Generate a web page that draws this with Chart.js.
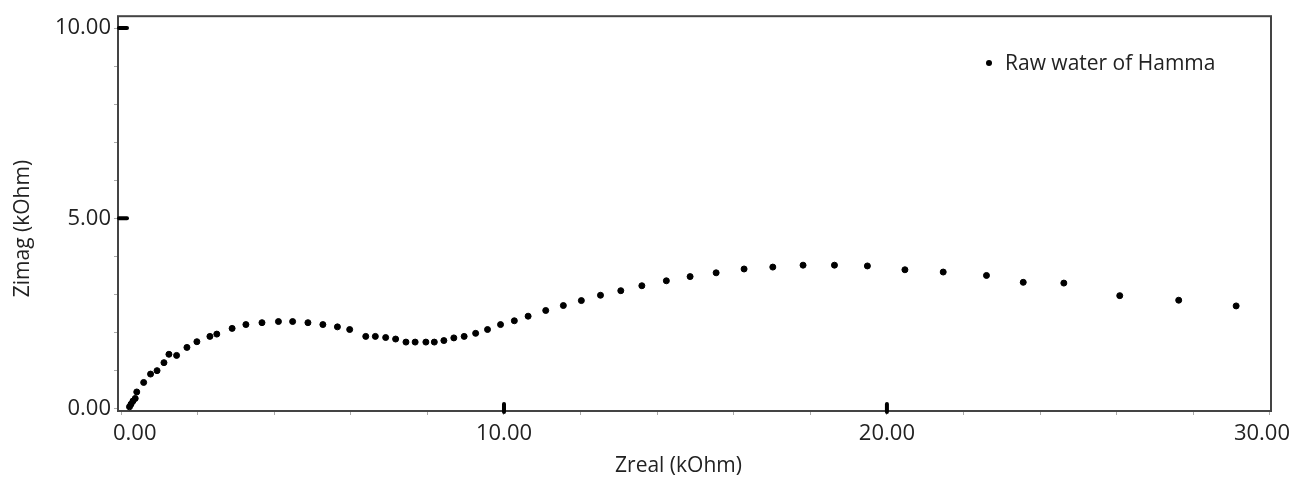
<!DOCTYPE html>
<html>
<head>
<meta charset="utf-8">
<title>Raw water of Hamma</title>
<script src="https://cdn.jsdelivr.net/npm/chart.js@4/dist/chart.umd.min.js"></script>
<style>
    html, body { margin: 0; padding: 0; background: #fff; overflow: hidden; }
    canvas { display: block; }
</style>
</head>
<body>
<canvas id="chart" width="1293" height="477"></canvas>
<script>
// Nyquist data (kOhm)
const zReal = [
    0.22, 0.26, 0.31, 0.37, 0.41, 0.59, 0.77, 0.94, 1.12, 1.25,
    1.45, 1.72, 1.98, 2.32, 2.50, 2.90, 3.26, 3.68, 4.11, 4.48,
    4.88, 5.27, 5.65, 5.97, 6.39, 6.64, 6.91, 7.17, 7.44, 7.68,
    7.96, 8.18, 8.43, 8.69, 8.96, 9.26, 9.57, 9.91, 10.27, 10.63,
    11.09, 11.55, 12.02, 12.52, 13.05, 13.60, 14.24, 14.86, 15.54, 16.27,
    17.02, 17.81, 18.63, 19.49, 20.47, 21.47, 22.60, 23.56, 24.62, 26.08,
    27.62, 29.12
];
const zImag = [
    0.05, 0.12, 0.20, 0.27, 0.44, 0.69, 0.91, 1.00, 1.21, 1.43,
    1.40, 1.61, 1.76, 1.90, 1.96, 2.11, 2.21, 2.26, 2.29, 2.29,
    2.26, 2.21, 2.15, 2.08, 1.90, 1.90, 1.87, 1.83, 1.75, 1.75,
    1.75, 1.75, 1.79, 1.86, 1.90, 1.98, 2.08, 2.21, 2.31, 2.43,
    2.58, 2.71, 2.84, 2.98, 3.10, 3.23, 3.36, 3.47, 3.57, 3.67,
    3.72, 3.77, 3.77, 3.75, 3.65, 3.59, 3.50, 3.32, 3.30, 2.97,
    2.85, 2.70
];

const xTicks = [0, 2, 4, 6, 8, 10, 12, 14, 16, 18, 20, 22, 24, 26, 28, 30];
const yTicks = [0, 1, 2, 3, 4, 5, 6, 7, 8, 9, 10];
const xLabelled = [0, 10, 20, 30];
const xMajor = [10, 20];
const yMajor = [5, 10];

const seriesName = 'Raw water of Hamma';
const xTitle = 'Zreal (kOhm)';
const yTitle = 'Zimag (kOhm)';

const FONT = '"Open Sans", "DejaVu Sans", sans-serif';

// frame, heavy major ticks, x tick labels, axis titles and legend
const decorations = {
    id: 'decorations',
    beforeDatasetsDraw(chart) {
        const { ctx, chartArea: a } = chart;
        ctx.save();
        ctx.strokeStyle = '#444';
        ctx.lineWidth = 2;
        ctx.strokeRect(a.left, a.top, a.right - a.left, a.bottom - a.top);
        ctx.restore();
    },
    afterDraw(chart) {
        const { ctx, chartArea: a, scales } = chart;
        ctx.save();
        ctx.strokeStyle = '#000';
        ctx.lineWidth = 4;
        ctx.lineCap = 'round';
        yMajor.forEach(v => {
            const y = scales.y.getPixelForValue(v);
            ctx.beginPath();
            ctx.moveTo(a.left + 1, y);
            ctx.lineTo(a.left + 9, y);
            ctx.stroke();
        });
        xMajor.forEach(v => {
            const x = scales.x.getPixelForValue(v);
            ctx.beginPath();
            ctx.moveTo(x, a.bottom - 7);
            ctx.lineTo(x, a.bottom + 1);
            ctx.stroke();
        });

        // x tick labels, kept inside the canvas at both ends
        ctx.fillStyle = '#222';
        ctx.font = '22px ' + FONT;
        ctx.textAlign = 'left';
        ctx.textBaseline = 'middle';
        xLabelled.forEach(v => {
            const txt = v.toFixed(2);
            const w = ctx.measureText(txt).width;
            let left = scales.x.getPixelForValue(v) - w / 2;
            left = Math.max(left, a.left - 5);
            left = Math.min(left, chart.width - 3 - w);
            ctx.fillText(txt, left, a.bottom + 23);
        });

        ctx.font = '21px ' + FONT;
        ctx.textAlign = 'center';
        ctx.fillText(xTitle, (a.left + a.right) / 2 - 16, a.bottom + 55);

        ctx.save();
        ctx.translate(23, (a.top + a.bottom) / 2 + 15);
        ctx.rotate(-Math.PI / 2);
        ctx.fillText(yTitle, 0, 0);
        ctx.restore();

        // legend
        ctx.fillStyle = '#000';
        ctx.beginPath();
        ctx.arc(989, 63, 3, 0, Math.PI * 2);
        ctx.fill();
        ctx.fillStyle = '#222';
        ctx.textAlign = 'left';
        ctx.fillText(seriesName, 1005, 64);
        ctx.restore();
    }
};

new Chart(document.getElementById('chart'), {
    type: 'scatter',
    data: {
        datasets: [{
            label: seriesName,
            data: zReal.map((x, i) => ({ x: x, y: zImag[i] })),
            backgroundColor: '#000',
            borderColor: '#000',
            pointRadius: 3,
            pointHoverRadius: 3,
            showLine: false
        }]
    },
    options: {
        responsive: false,
        animation: false,
        events: [],
        layout: { padding: { top: 15, right: 22, left: 0, bottom: 0 } },
        plugins: {
            legend: { display: false },
            tooltip: { enabled: false }
        },
        scales: {
            x: {
                type: 'linear',
                min: -0.08,
                max: 30.03,
                afterBuildTicks: scale => { scale.ticks = xTicks.map(v => ({ value: v })); },
                afterFit: scale => {
                    scale.height = 66;
                    scale.paddingLeft = 0;
                    scale.paddingRight = 0;
                },
                grid: { drawOnChartArea: false, drawTicks: true, tickLength: 4, color: '#aaa' },
                border: { display: false },
                ticks: {
                    autoSkip: false,
                    maxRotation: 0,
                    callback: () => ''
                }
            },
            y: {
                type: 'linear',
                min: -0.06,
                max: 10.31,
                afterBuildTicks: scale => { scale.ticks = yTicks.map(v => ({ value: v })); },
                afterFit: scale => { scale.width = 118; },
                grid: { drawOnChartArea: false, drawTicks: true, tickLength: 4, color: '#aaa' },
                border: { display: false },
                ticks: {
                    autoSkip: false,
                    padding: 3,
                    color: '#222',
                    font: { family: FONT, size: 22 },
                    callback: v => (v % 5 === 0 ? v.toFixed(2) : '')
                }
            }
        }
    },
    plugins: [decorations]
});
</script>
</body>
</html>
